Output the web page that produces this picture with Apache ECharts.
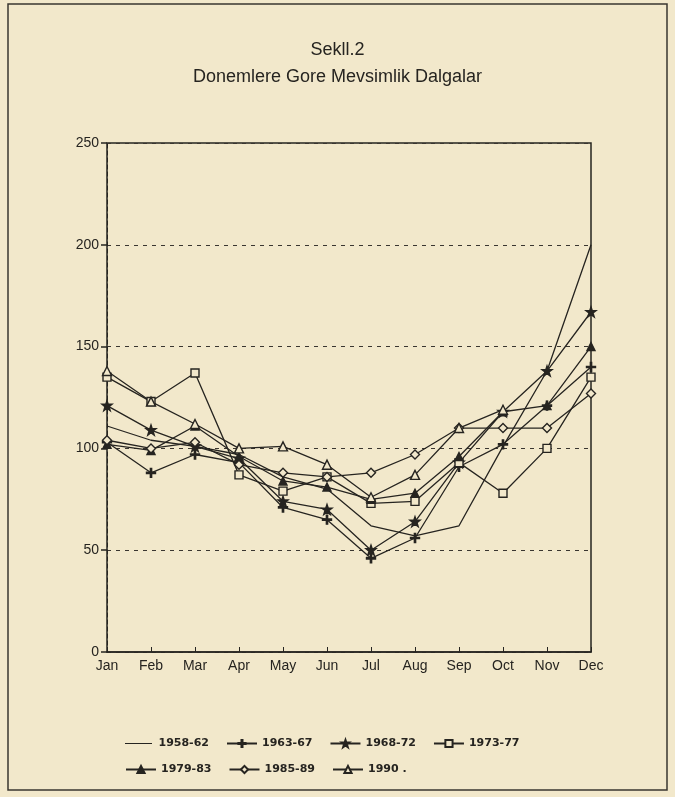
<!DOCTYPE html>
<html>
<head>
<meta charset="utf-8">
<script src="https://cdn.jsdelivr.net/npm/echarts@6/dist/echarts.min.js"></script>
<style>
html,body{margin:0;padding:0;background:#f2e8cb;}
#c{width:675px;height:797px;}
</style>
</head>
<body>
<div id="c"></div>
<script>
const months = ['Jan','Feb','Mar','Apr','May','Jun','Jul','Aug','Sep','Oct','Nov','Dec'];
const yTicks = [0, 50, 100, 150, 200, 250];
const names = ['1958-62','1963-67','1968-72','1973-77','1979-83','1985-89','1990 .'];
const s1958 = [111, 104, 101, 97, 86, 80, 62, 57, 62, 101, 138, 200];
const s1963 = [103, 88, 97, 93, 71, 65, 46, 56, 91, 102, 121, 140];
const s1968 = [121, 109, 101, 95, 74, 70, 50, 64, 93, 118, 138, 167];
const s1973 = [135, 123, 137, 87, 79, 86, 73, 74, 93, 78, 100, 135];
const s1979 = [102, 99, 111, 96, 84, 81, 75, 78, 96, 118, 121, 150];
const s1985 = [104, 100, 103, 92, 88, 86, 88, 97, 110, 110, 110, 127];
const s1990 = [138, 123, 112, 100, 101, 92, 76, 87, 110, 119, null, null];

const ink = '#262420';
const paper = '#f2e8cb';
const plusPath = 'path://M4.3,0h1.4v4.3h4.3v1.4h-4.3v4.3h-1.4v-4.3h-4.3v-1.4h4.3z';
const starPath = 'path://M5,0 L6.2,3.6 L10,3.6 L7,6 L8.2,10 L5,7.6 L1.8,10 L3,6 L0,3.6 L3.8,3.6 Z';
const linePath = 'path://M0,0L0.01,0L0,0.01Z M0,4.35h30v1.3h-30z M0,10L0.01,10L0,9.99Z';

function mk(name, data, symbol, filled, size, dash) {
  return {
    name: name, type: 'line', data: data,
    symbol: symbol, symbolSize: size, showSymbol: symbol !== 'none',
    connectNulls: false,
    lineStyle: {color: ink, width: 1.3, type: dash || 'solid'},
    itemStyle: {color: filled ? ink : paper, borderColor: ink, borderWidth: 1.4},
    emphasis: {disabled: true},
    z: 3
  };
}

const series = [
  mk(names[0], s1958, 'none', true, 0),
  mk(names[1], s1963, plusPath, true, 9),
  mk(names[2], s1968, starPath, true, 10),
  mk(names[3], s1973, 'rect', false, 8),
  mk(names[4], s1979, 'triangle', true, 8),
  mk(names[5], s1985, 'diamond', false, 9),
  mk(names[6], s1990, 'triangle', false, 9)
];

const legText = {fontFamily: 'DejaVu Sans, sans-serif', fontSize: 11, color: ink, fontWeight: 'bold'};
const chart = echarts.init(document.getElementById('c'), null, {renderer: 'canvas'});
const font = 'Liberation Sans, Arial, sans-serif';
chart.setOption({
  backgroundColor: paper,
  animation: false,
  title: {
    text: 'Sekll.2\nDonemlere Gore Mevsimlik Dalgalar',
    left: 'center', top: 32,
    textStyle: {fontFamily: font, fontSize: 18, fontWeight: 'normal', color: ink, lineHeight: 27}
  },
  legend: [
    {
      data: [{name: names[0], icon: linePath, itemStyle: {color: ink, borderWidth: 0}}].concat(names.slice(1, 4)),
      top: 733, left: 120, itemGap: 17, itemWidth: 30, itemHeight: 9,
      textStyle: legText
    },
    {
      data: names.slice(4), top: 759, left: 120, itemGap: 17, itemWidth: 30, itemHeight: 9,
      textStyle: legText
    }
  ],
  grid: {left: 107, right: 84, top: 143, bottom: 145, show: true, borderColor: ink, borderWidth: 1.5, backgroundColor: 'transparent'},
  xAxis: {
    type: 'category', data: months, boundaryGap: false,
    axisLine: {lineStyle: {color: ink, width: 1.5}},
    axisTick: {inside: true, length: 5, lineStyle: {color: ink}},
    axisLabel: {fontFamily: font, fontSize: 14, color: ink, margin: 7, interval: 0}
  },
  yAxis: {
    type: 'value', min: yTicks[0], max: yTicks[yTicks.length - 1], interval: 50,
    axisLine: {show: true, lineStyle: {color: ink, width: 1, type: [4, 3]}},
    axisTick: {show: true, length: 6, lineStyle: {color: ink, width: 1.5}},
    axisLabel: {fontFamily: font, fontSize: 14, color: ink, margin: 8},
    splitLine: {show: true, lineStyle: {color: '#3a3630', width: 1, type: [4, 5]}}
  },
  graphic: [
    {type: 'rect', shape: {x: 8, y: 4, width: 659, height: 786}, style: {fill: 'none', stroke: '#3a3630', lineWidth: 1.5}, silent: true}
  ],
  series: series
});
</script>
</body>
</html>
